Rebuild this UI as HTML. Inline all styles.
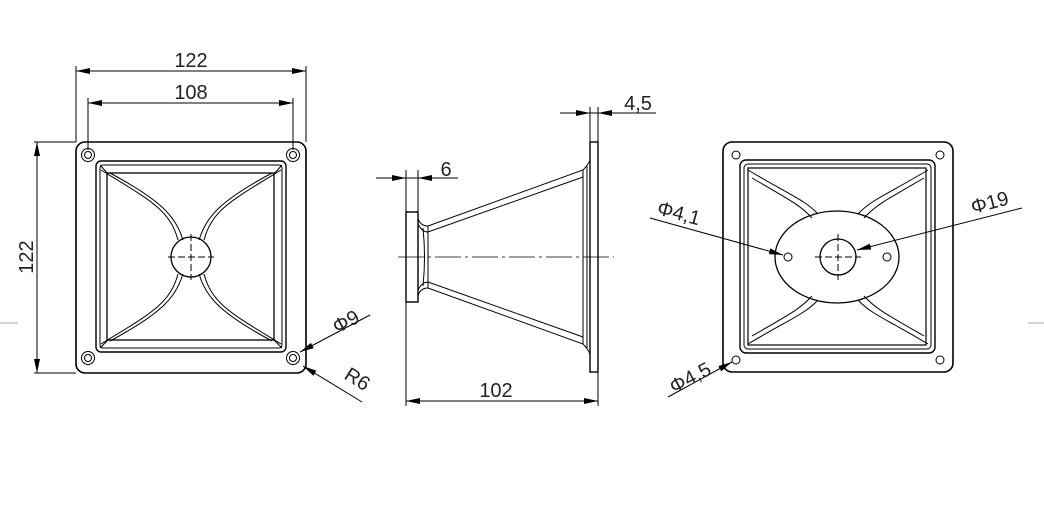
<!DOCTYPE html>
<html><head><style>body{margin:0;background:#fff}svg{display:block}text{font-family:"Liberation Sans",sans-serif;font-size:20px;fill:#222}</style></head><body>
<svg width="1044" height="530" viewBox="0 0 1044 530" xmlns="http://www.w3.org/2000/svg">
<defs><marker id="a" markerWidth="14" markerHeight="6" refX="14" refY="3" orient="auto-start-reverse" markerUnits="userSpaceOnUse"><path d="M0,0 L14,3 L0,6z" fill="#000"/></marker></defs>
<g stroke="#aaa" stroke-width="1"><line x1="0" y1="323" x2="18" y2="323"/><line x1="1028" y1="323" x2="1044" y2="323"/></g>
<g fill="none" stroke="#000" stroke-width="1">
<rect x="76" y="142" width="230" height="231" rx="9" stroke-width="1.6"/>
<circle cx="88" cy="155" r="6.5"/><circle cx="88" cy="155" r="3.5"/>
<circle cx="293" cy="155" r="6.5"/><circle cx="293" cy="155" r="3.5"/>
<circle cx="88" cy="358" r="6.5"/><circle cx="88" cy="358" r="3.5"/>
<circle cx="293" cy="358" r="6.5"/><circle cx="293" cy="358" r="3.5"/>
<rect x="96" y="161" width="190" height="191" rx="5" stroke-width="1.4"/>
<rect x="100" y="165" width="182" height="183" rx="3"/>
<rect x="107" y="173" width="167" height="167" stroke-width="1.3"/>
<path d="M100,165 L109,175 M282,165 L273,175 M100,348 L109,339 M282,348 L273,339"/>
<path d="M101,170 C150,200 170,210 178,240 M110,173 C160,200 175,215 183,240"/>
<path d="M281,170 C232,200 212,210 204,240 M272,173 C222,200 207,215 199,240"/>
<path d="M101,344 C150,314 170,304 178,274 M110,341 C160,314 175,299 183,274"/>
<path d="M281,344 C232,314 212,304 204,274 M272,341 C222,314 207,299 199,274"/>
<circle cx="191" cy="257" r="20" stroke-width="1.3"/>
<path d="M168,257 H214 M191,234 V280" stroke-dasharray="7,3"/>
<path d="M76,142 V66 M306,142 V66 M88,150 V98 M293,150 V98 M34,142 H76 M34,373 H76"/>
<line x1="76" y1="71" x2="306" y2="71" marker-start="url(#a)" marker-end="url(#a)"/>
<line x1="88" y1="103" x2="293" y2="103" marker-start="url(#a)" marker-end="url(#a)"/>
<line x1="37" y1="142" x2="37" y2="373" marker-start="url(#a)" marker-end="url(#a)"/>
<line x1="370" y1="315" x2="300" y2="352" marker-end="url(#a)"/>
<line x1="362" y1="402" x2="303" y2="366" marker-end="url(#a)"/>
<rect x="406" y="212" width="12" height="90" stroke-width="1.4"/>
<rect x="590" y="142" width="8" height="230" stroke-width="1.4"/>
<path d="M418,218 Q420,226 428,226 L583,170 Q588,165 590,160"/>
<path d="M418,224 Q422,232 428,232 L583,177"/>
<path d="M418,296 Q420,288 428,288 L583,344 Q588,349 590,354"/>
<path d="M418,290 Q422,282 428,282 L583,337"/>
<path d="M428,226 V288 M423,228 Q426,257 423,286 M583,170 V344 M587,166 V348"/>
<line x1="398" y1="257" x2="614" y2="257" stroke-dasharray="26,4,3,4" stroke-width="0.8"/>
<path d="M406,170 V212 M418,170 V212 M590,107 V142 M598,107 V142 M406,302 V406 M598,372 V406"/>
<line x1="376" y1="178" x2="406" y2="178" marker-end="url(#a)"/>
<line x1="458" y1="178" x2="418" y2="178" marker-end="url(#a)"/>
<line x1="406" y1="178" x2="418" y2="178"/>
<line x1="560" y1="113" x2="590" y2="113" marker-end="url(#a)"/>
<line x1="656" y1="113" x2="598" y2="113" marker-end="url(#a)"/>
<line x1="590" y1="113" x2="598" y2="113"/>
<line x1="406" y1="401" x2="598" y2="401" marker-start="url(#a)" marker-end="url(#a)"/>
<rect x="723" y="142" width="230" height="230" rx="9" stroke-width="1.6"/>
<circle cx="736" cy="155" r="4"/><circle cx="940" cy="155" r="4"/>
<circle cx="736" cy="360" r="4"/><circle cx="940" cy="360" r="4"/>
<rect x="740" y="160" width="195" height="193" rx="6" stroke-width="1.4"/>
<rect x="744" y="164" width="187" height="185" rx="4"/>
<rect x="748" y="168" width="178" height="177" stroke-width="1.2"/>
<path d="M748,170 C790,195 805,200 818,214 M752,178 C790,200 800,205 812,218"/>
<path d="M928,170 C886,195 871,200 858,214 M924,178 C886,200 876,205 864,218"/>
<path d="M748,344 C790,319 805,314 818,300 M752,336 C790,314 800,309 812,296"/>
<path d="M928,344 C886,319 871,314 858,300 M924,336 C886,314 876,309 864,296"/>
<ellipse cx="837" cy="257" rx="62" ry="46" stroke-width="1.3"/>
<circle cx="838" cy="257" r="18" stroke-width="1.3"/>
<path d="M815,257 H861 M838,234 V280" stroke-dasharray="7,3"/>
<circle cx="788" cy="257" r="4"/><circle cx="887" cy="257" r="4"/>
<line x1="650" y1="218" x2="783" y2="255" marker-end="url(#a)"/>
<line x1="1022" y1="208" x2="857" y2="250" marker-end="url(#a)"/>
<line x1="668" y1="397" x2="732" y2="362" marker-end="url(#a)"/>
</g>
<text x="191" y="67" text-anchor="middle">122</text>
<text x="191" y="99" text-anchor="middle">108</text>
<text transform="translate(33,257) rotate(-90)" text-anchor="middle">122</text>
<text transform="translate(337,334) rotate(-28)">Φ9</text>
<text transform="translate(343,378) rotate(32)">R6</text>
<text x="446" y="176" text-anchor="middle">6</text>
<text x="638" y="110" text-anchor="middle">4,5</text>
<text x="496" y="397" text-anchor="middle">102</text>
<text transform="translate(656,214) rotate(15)">Φ4,1</text>
<text transform="translate(973,214) rotate(-15)">Φ19</text>
<text transform="translate(674,394) rotate(-28)">Φ4,5</text>
</svg>
</body></html>
